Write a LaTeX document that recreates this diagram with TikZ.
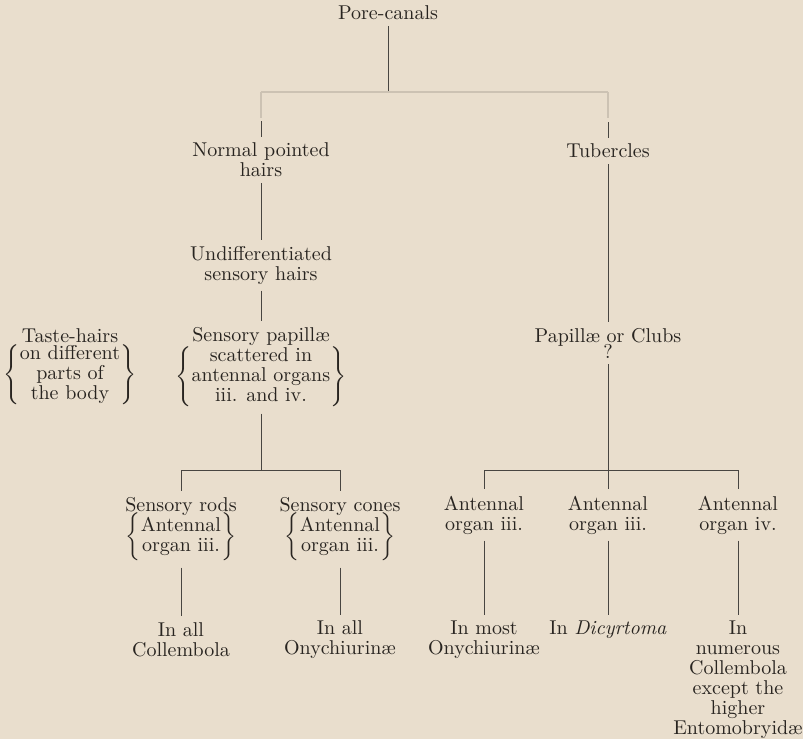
\documentclass[tikz,border=0pt]{standalone}
\usepackage{amsmath}
\definecolor{paper}{RGB}{233,222,205}
\definecolor{ink}{RGB}{40,36,32}
\newcommand{\brc}[1]{$\left\{\begin{tabular}{@{}c@{}}#1\end{tabular}\right\}$}
\tikzset{
  txt/.style={
    align=center,
    text=ink,
    font=\fontsize{10}{10}\selectfont,
    inner sep=3pt,
  },
  ln/.style={draw=ink!85, line width=0.5pt},
  fadeln/.style={draw=ink!15!paper, line width=0.6pt},
}

\begin{document}
\begin{tikzpicture}[x=0.5pt, y=-0.5pt]

\fill[paper] (0,0) rectangle (803,739);
\useasboundingbox (0,0) rectangle (803,739);

% --- Top of the tree ---
\node[txt] (pore) at (388,13) {Pore-canals};
\node[txt] (normal) at (261,160) {Normal pointed\\hairs};
\node[txt] (tuber) at (608,151) {Tubercles};

% --- Left column ---
\node[txt] (undiff) at (261,265) {Undifferentiated\\sensory hairs};
\node[txt] (papil) at (261,367) {Sensory papill\ae\\\brc{scattered in\\antennal organs\\iii. and iv.}};
\node[txt] (taste) at (70,367) {Taste-hairs\\\brc{on different\\parts of\\the body}};

\node[txt] (rods) at (181,529) {Sensory rods\\[-2pt]\brc{Antennal\\organ iii.}};
\node[txt] (cones) at (340,529) {Sensory cones\\[-2pt]\brc{Antennal\\organ iii.}};

\node[txt] (allcoll) at (181,640) {In all\\Collembola};
\node[txt] (allony) at (340,640) {In all\\Onychiurin\ae};

% --- Right column ---
\node[txt] (clubs) at (608,343) {Papill\ae{} or Clubs\\[-2pt]?};

\node[txt] (antA) at (484,515) {Antennal\\organ iii.};
\node[txt] (antB) at (608,515) {Antennal\\organ iii.};
\node[txt] (antC) at (738,515) {Antennal\\organ iv.};

\node[txt] (mostony) at (484,640) {In most\\Onychiurin\ae};
\node[txt] (dicyr) at (608,630) {In \textit{Dicyrtoma}};
\node[txt] (numer) at (738,680) {In\\numerous\\Collembola\\except the\\higher\\Entomobryid\ae};

% --- Forks ---
\coordinate (fork0) at (388,92);
\coordinate (fork1) at (261,470);
\coordinate (fork2) at (608,470);

% --- Connectors: top ---
\draw[ln] (pore) -- (fork0);
\draw[fadeln] (fork0 -| normal.north) -- (fork0 -| tuber.north);
\draw[fadeln] (fork0 -| normal.north) -- ++(0,26);
\draw[fadeln] (fork0 -| tuber.north) -- ++(0,26);
\draw[ln] (normal.north) -- ++(0,-16);
\draw[ln] (tuber.north) -- ++(0,-16);

% --- Connectors: left column ---
\draw[ln] (normal) -- (undiff);
\draw[ln] (undiff) -- (papil);
\draw[ln] (papil.south) -- (fork1);
\draw[ln] (fork1 -| rods.north) -- (fork1 -| cones.north);
\draw[ln] (fork1 -| rods.north) -- (rods.north);
\draw[ln] (fork1 -| cones.north) -- (cones.north);
\draw[ln] (rods) -- (allcoll);
\draw[ln] (cones) -- (allony);

% --- Connectors: right column ---
\draw[ln] (tuber) -- (clubs);
\draw[ln] (clubs.south) -- (fork2);
\draw[ln] (fork2 -| antA.north) -- (fork2 -| antC.north);
\draw[ln] (fork2 -| antA.north) -- (antA.north);
\draw[ln] (fork2) -- (antB.north);
\draw[ln] (fork2 -| antC.north) -- (antC.north);
\draw[ln] (antA) -- (mostony);
\draw[ln] (antB) -- (dicyr);
\draw[ln] (antC) -- (numer);

\end{tikzpicture}
\end{document}
